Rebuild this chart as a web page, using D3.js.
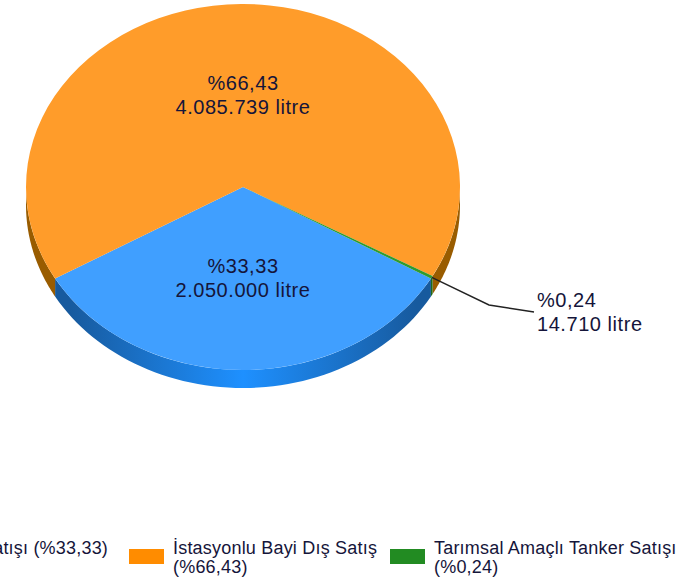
<!DOCTYPE html>
<html>
<head>
<meta charset="utf-8">
<title>Satış dağılımı</title>
<script src="https://d3js.org/d3.v7.min.js"></script>
<style>
    html, body { margin: 0; padding: 0; background: #fff; overflow: hidden; }
    svg { display: block; font-family: "Liberation Sans", Arial, sans-serif; }
    text { fill: #15153a; }
</style>
</head>
<body>
<script>
// degerler
var values = [2050000, 4085739, 14710];
var percents = ["%33,33", "%66,43", "%0,24"];
var amounts = ["2.050.000 litre", "4.085.739 litre", "14.710 litre"];
var topColors = ["#409fff", "#ff9c2a", "#2f9a2f"];
var sideColors = ["#1e90ff", "#995c00", "#1c6a1c"];
var legendColors = ["#1e90ff", "#ff8c00", "#228b22"];
var legendLines = [["Satışı (%33,33)"], ["İstasyonlu Bayi Dış Satış", "(%66,43)"], ["Tarımsal Amaçlı Tanker Satışı", "(%0,24)"]];

var width = 698, height = 583;
var cx = 243, cy = 187, rx = 217, ry = 183, depth = 18;

var svg = d3.select("body").append("svg")
    .attr("width", width)
    .attr("height", height);

// degrade du cote bleu : sombre sur les bords, clair en bas
var grad = svg.append("defs").append("linearGradient")
    .attr("id", "blueSide")
    .attr("gradientUnits", "userSpaceOnUse")
    .attr("x1", cx - rx).attr("x2", cx + rx)
    .attr("y1", 0).attr("y2", 0);
grad.append("stop").attr("offset", "0.1").attr("stop-color", "#175a9e");
grad.append("stop").attr("offset", "0.5").attr("stop-color", "#1e90ff");
grad.append("stop").attr("offset", "0.9").attr("stop-color", "#175a9e");

var pie = d3.pie()
    .sort(null)
    .startAngle(Math.PI * 2 / 3)
    .endAngle(Math.PI * 2 / 3 + Math.PI * 2);
var slices = pie(values);

var arc = d3.arc().innerRadius(0).outerRadius(rx);

function rim(t) {
    return [cx + rx * Math.sin(t), cy - ry * Math.cos(t)];
}

// paroi du camembert (seulement la moitie basse est visible)
function sidePath(a0, a1) {
    var pts = d3.range(61).map(function(i) {
        return rim(a0 + (a1 - a0) * i / 60);
    });
    var low = pts.slice().reverse().map(function(q) {
        return [q[0], q[1] + depth];
    });
    return d3.line()(pts.concat(low)) + "Z";
}

var sides = [];
slices.forEach(function(d, i) {
    // on coupe l'angle sur la partie basse [90deg, 270deg], a un tour pres
    [0, Math.PI * 2].forEach(function(shift) {
        var a0 = Math.max(d.startAngle - shift, Math.PI / 2);
        var a1 = Math.min(d.endAngle - shift, Math.PI * 3 / 2);
        if (a1 > a0) sides.push({ a0: a0, a1: a1, i: i });
    });
});

svg.selectAll(".side")
    .data(sides)
    .enter()
    .append("path")
    .attr("class", "side")
    .attr("d", function(d) { return sidePath(d.a0, d.a1); })
    .attr("fill", function(d) { return d.i == 0 ? "url(#blueSide)" : sideColors[d.i]; });

var face = svg.append("g")
    .attr("transform", "translate(" + cx + "," + cy + ") scale(1," + (ry / rx) + ")");

face.selectAll(".slice")
    .data(slices)
    .enter()
    .append("path")
    .attr("class", "slice")
    .attr("d", arc)
    .attr("fill", function(d, i) { return topColors[i]; });

// etiquettes
var labelX = [cx, cx, 537];
var labelY = [273, 90, 307];
var labelAnchor = ["middle", "middle", "start"];
var labels = svg.selectAll(".label")
    .data(values)
    .enter()
    .append("g")
    .attr("class", "label")
    .style("font-size", "20px")
    .style("letter-spacing", "0.55px")
    .attr("text-anchor", function(d, i) { return labelAnchor[i]; });
labels.append("text")
    .attr("x", function(d, i) { return labelX[i]; })
    .attr("y", function(d, i) { return labelY[i]; })
    .text(function(d, i) { return percents[i]; });
labels.append("text")
    .attr("x", function(d, i) { return labelX[i]; })
    .attr("y", function(d, i) { return labelY[i] + 24; })
    .text(function(d, i) { return amounts[i]; });

// ligne de rappel, part du bord de la tranche verte
var green = slices[2];
var leaderStart = rim((green.startAngle + green.endAngle) / 2 - Math.PI * 2);
svg.append("path")
    .attr("d", d3.line()([leaderStart, [489, 305], [534, 312]]))
    .attr("fill", "none")
    .attr("stroke", "#222")
    .attr("stroke-width", 1.4);

// legende
var legendX = [-63, 129, 390];
var legendY = 549;

var legend = svg.selectAll(".legend")
    .data(legendLines)
    .enter()
    .append("g")
    .attr("class", "legend")
    .attr("transform", function(d, i) { return "translate(" + legendX[i] + "," + legendY + ")"; });
legend.append("rect")
    .attr("width", 35)
    .attr("height", 15)
    .attr("fill", function(d, i) { return legendColors[i]; });
legend.each(function(lines) {
    d3.select(this).selectAll("text")
        .data(lines)
        .enter()
        .append("text")
        .attr("x", 44)
        .attr("y", function(d, j) { return 5 + j * 19; })
        .style("font-size", "18px")
        .style("letter-spacing", "0.2px")
        .text(function(d) { return d; });
});
</script>
</body>
</html>
